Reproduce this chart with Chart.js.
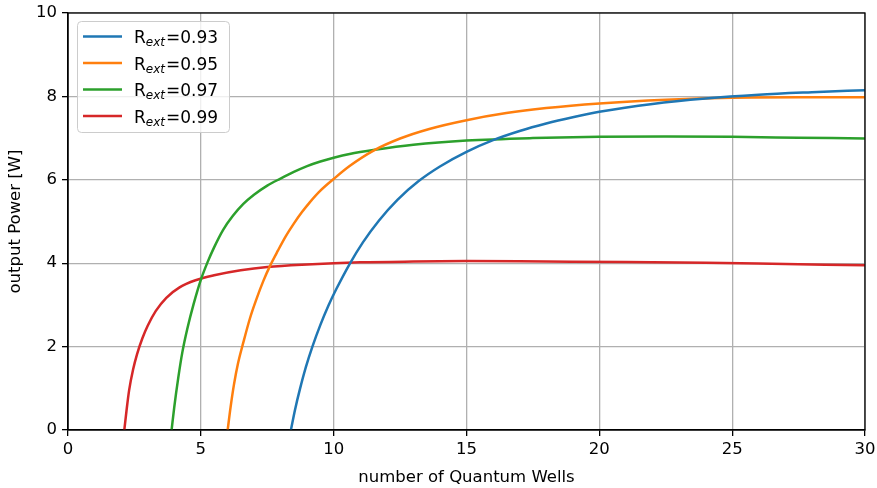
<!DOCTYPE html>
<html>
<head>
<meta charset="utf-8">
<script src="https://cdn.jsdelivr.net/npm/chart.js@4"></script>
<style>
  html, body { margin: 0; padding: 0; background: #fff; }
  #wrap { width: 877px; height: 488px; }
</style>
</head>
<body>
<div id="wrap"><canvas id="myChart"></canvas></div>
<script>
// reflectivity of each curve
const rExt = ['0.93', '0.95', '0.97', '0.99'];
const colors = ['#1f77b4', '#ff7f0e', '#2ca02c', '#d62728'];

// number of quantum wells / output power
const wells093 = [8.39, 8.55, 8.73, 8.95, 9.2, 9.5, 9.8, 10.1, 10.6, 11.1, 11.7, 12.4, 13.2, 14, 15, 16, 17, 18, 19, 20, 22, 24, 26, 28, 30];
const power093 = [0, 0.5, 0.98, 1.5, 2.0, 2.52, 2.98, 3.38, 3.98, 4.5, 5.02, 5.52, 5.97, 6.32, 6.67, 6.95, 7.17, 7.35, 7.5, 7.63, 7.82, 7.95, 8.04, 8.1, 8.15];

const wells095 = [6.01, 6.12, 6.25, 6.4, 6.6, 6.85, 7.1, 7.35, 7.6, 7.9, 8.2, 8.5, 8.8, 9.1, 9.5, 10, 10.6, 11.5, 12.5, 13.6, 15, 16.5, 18, 20, 22.5, 25, 27.5, 30];
const power095 = [0, 0.55, 1.1, 1.6, 2.1, 2.68, 3.15, 3.57, 3.93, 4.3, 4.65, 4.95, 5.22, 5.46, 5.74, 6.02, 6.33, 6.7, 6.99, 7.22, 7.43, 7.6, 7.72, 7.83, 7.92, 7.97, 7.98, 7.98];

const wells097 = [3.9, 4.0, 4.15, 4.3, 4.5, 4.72, 5.0, 5.25, 5.5, 5.84, 6.2, 6.6, 7.0, 7.5, 8.0, 8.5, 9.0, 9.5, 10, 10.6, 11.55, 13, 15, 17.5, 20, 22.5, 25, 27.5, 30];
const power097 = [0, 0.55, 1.25, 1.85, 2.45, 3.0, 3.6, 4.02, 4.38, 4.8, 5.13, 5.42, 5.64, 5.86, 6.03, 6.19, 6.33, 6.44, 6.53, 6.62, 6.72, 6.84, 6.94, 7.0, 7.03, 7.04, 7.03, 7.01, 6.99];

const wells099 = [2.12, 2.2, 2.3, 2.45, 2.6, 2.8, 3.0, 3.3, 3.7, 4.2, 4.8, 5.5, 6.5, 7.5, 9, 11, 13, 15, 18, 21, 24, 27, 30];
const power099 = [0, 0.45, 0.95, 1.45, 1.82, 2.2, 2.5, 2.85, 3.17, 3.42, 3.59, 3.71, 3.83, 3.91, 3.97, 4.02, 4.04, 4.05, 4.04, 4.03, 4.01, 3.98, 3.95];

const wells = [wells093, wells095, wells097, wells099];
const powers = [power093, power095, power097, power099];

const FONT = 'DejaVu Sans';

const ctx = document.getElementById('myChart').getContext('2d');

const data = {
  datasets: rExt.map((r, i) => ({
    label: 'R_ext=' + r,
    data: wells[i].map((x, j) => ({x: x, y: powers[i][j]})),
    borderColor: colors[i],
    backgroundColor: colors[i],
    borderWidth: 2.5,
    pointRadius: 0,
    fill: false,
    cubicInterpolationMode: 'monotone'
  }))
};

// spines on all four sides + matplotlib-like legend with subscript
const decorations = {
  id: 'decorations',
  afterDatasetsDraw(chart) {
    const {ctx, chartArea: {top, right, bottom, left}} = chart;
    ctx.save();
    ctx.strokeStyle = '#000';
    ctx.lineWidth = 1.3;
    ctx.strokeRect(left, top, right - left, bottom - top);

    // legend box
    const bx = 77.5, by = 21.5, bw = 152, bh = 111, rad = 4;
    ctx.beginPath();
    ctx.moveTo(bx + rad, by);
    ctx.arcTo(bx + bw, by, bx + bw, by + bh, rad);
    ctx.arcTo(bx + bw, by + bh, bx, by + bh, rad);
    ctx.arcTo(bx, by + bh, bx, by, rad);
    ctx.arcTo(bx, by, bx + bw, by, rad);
    ctx.closePath();
    ctx.fillStyle = 'rgba(255,255,255,0.8)';
    ctx.fill();
    ctx.strokeStyle = '#cccccc';
    ctx.lineWidth = 1;
    ctx.stroke();

    ctx.textBaseline = 'alphabetic';
    ctx.textAlign = 'left';
    rExt.forEach((r, i) => {
      const ly = 36.5 + i * 26.5;
      ctx.strokeStyle = colors[i];
      ctx.lineWidth = 2.5;
      ctx.beginPath();
      ctx.moveTo(83, ly);
      ctx.lineTo(122, ly);
      ctx.stroke();

      const base = ly + 6.5;
      let tx = 134;
      ctx.fillStyle = '#000';
      ctx.font = '17px "' + FONT + '"';
      ctx.fillText('R', tx, base);
      tx += ctx.measureText('R').width;
      ctx.font = 'italic 12px "' + FONT + '"';
      ctx.fillText('ext', tx, base + 3);
      tx += ctx.measureText('ext').width + 1;
      ctx.font = '17px "' + FONT + '"';
      ctx.fillText('=' + r, tx, base);
    });
    ctx.restore();
  }
};

const config = {
  type: 'line',
  data: data,
  options: {
    responsive: true,
    maintainAspectRatio: false,
    animation: false,
    layout: {
      padding: {top: 13, right: 12, bottom: 0, left: 0}
    },
    plugins: {
      legend: {display: false},
      tooltip: {enabled: false}
    },
    scales: {
      x: {
        type: 'linear',
        min: 0,
        max: 30,
        afterFit(scale) {
          scale.height = 58;
          scale.paddingLeft = 0;
          scale.paddingRight = 0;
        },
        ticks: {
          stepSize: 5,
          padding: 4,
          color: '#000',
          font: {family: FONT, size: 16.5}
        },
        grid: {
          color: '#b0b0b0',
          lineWidth: 1.3,
          tickColor: '#000',
          tickLength: 6
        },
        border: {display: true, color: '#000', width: 1.3},
        title: {
          display: true,
          text: 'number of Quantum Wells',
          color: '#000',
          font: {family: FONT, size: 16.5},
          padding: {top: 0, bottom: 0.5}
        }
      },
      y: {
        min: 0,
        max: 10,
        afterFit(scale) {
          scale.width = 68;
          scale.paddingTop = 0;
          scale.paddingBottom = 0;
        },
        ticks: {
          stepSize: 2,
          padding: 5,
          color: '#000',
          font: {family: FONT, size: 16.5}
        },
        grid: {
          color: '#b0b0b0',
          lineWidth: 1.3,
          tickColor: '#000',
          tickLength: 6
        },
        border: {display: true, color: '#000', width: 1.3},
        title: {
          display: true,
          text: 'output Power [W]',
          color: '#000',
          font: {family: FONT, size: 16.5},
          padding: {top: 6, bottom: 0}
        }
      }
    }
  },
  plugins: [decorations]
};

const myChart = new Chart(ctx, config);
</script>
</body>
</html>
